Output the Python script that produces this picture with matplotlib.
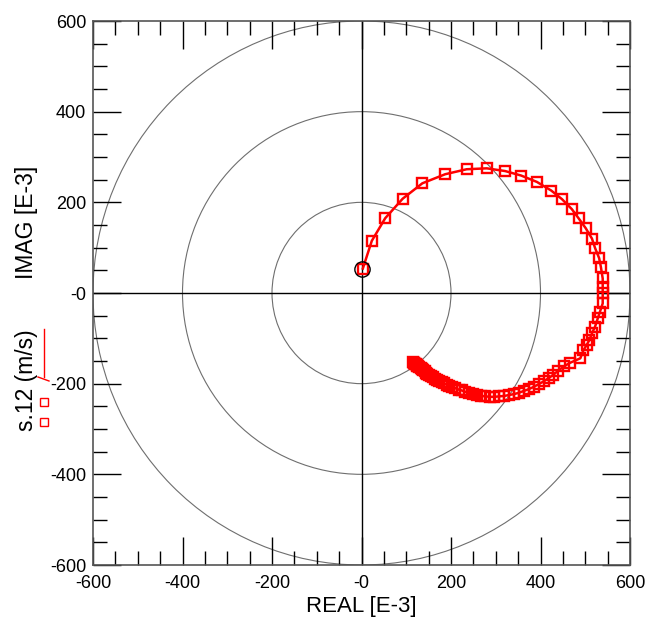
import matplotlib
matplotlib.use("Agg")
import matplotlib.pyplot as plt
import numpy as np
from matplotlib.lines import Line2D
from matplotlib.patches import Circle

plt.rcParams["font.family"] = ["Liberation Sans", "DejaVu Sans"]

# -------- DATA (units E-3) --------
s12_real = [3, 23, 53, 92, 136, 187, 235, 280, 321, 357, 392, 424, 448, 470,
            485, 501, 515, 522, 531, 535, 539, 539, 539, 539, 533, 528, 522,
            515, 509, 503, 496, 489,
            466, 452, 440, 429, 418, 407, 396, 385, 374, 363, 352, 341, 330,
            319, 308, 297, 287, 277, 267, 258, 249, 240, 232, 224, 217, 210,
            203, 196, 190, 184, 179, 174, 169, 164, 160, 155, 151, 147, 144,
            141, 138, 135, 132, 129, 127, 125, 123, 121, 119, 118, 117, 116]
s12_imag = [54, 115, 165, 208, 242, 262, 273, 275, 269, 259, 245, 226, 207, 185,
            165, 143, 120, 99, 77, 57, 32, 14, -1, -23, -41, -56, -74,
            -89, -104, -115, -126, -144,
            -154, -162, -171, -180, -188, -195, -201, -207, -212, -216, -220,
            -223, -225, -227, -228, -229, -229, -228, -227, -225, -223, -220,
            -218, -215, -213, -210, -207, -205, -202, -199, -197, -194, -192,
            -189, -186, -184, -181, -178, -176, -173, -170, -168, -165, -163,
            -161, -160, -158, -157, -156, -155, -154, -153]
start_marker = (2, 53)
ring_radii = [200, 400, 600]

tick_vals = [-600, -400, -200, 0, 200, 400, 600]
tick_text = ["-600", "-400", "-200", "-0", "200", "400", "600"]

RED = "#ff0000"

fig = plt.figure(figsize=(6.48, 6.21), dpi=100)
ax = fig.add_axes([93 / 648, 56 / 621, 537 / 648, 544 / 621])

# reference rings and crosshair
for r in ring_radii:
    ax.add_patch(Circle((0, 0), r, fill=False, ec="#6e6e6e", lw=0.8, zorder=1))
ax.axhline(0, color="black", lw=1.0, zorder=2)
ax.axvline(0, color="black", lw=1.0, zorder=2)

ax.plot(s12_real, s12_imag, color=RED, lw=1.8, marker="s", ms=7.5,
        mfc="none", mec=RED, mew=1.7, zorder=3)
ax.plot(*start_marker, marker="o", ms=11, mfc="none", mec="black",
        mew=1.0, zorder=4)

ax.set_xlim(-600, 600)
ax.set_ylim(-600, 600)

ax.set_xticks(tick_vals)
ax.set_xticklabels(tick_text)
ax.set_yticks(tick_vals)
ax.set_yticklabels(tick_text)
ax.set_xticks(np.arange(-600, 601, 50), minor=True)
ax.set_yticks(np.arange(-600, 601, 50), minor=True)
ax.tick_params(which="both", direction="in", top=True, right=True,
               color="black", width=1.0, labelsize=13)
ax.tick_params(which="major", length=20)
ax.tick_params(axis="x", which="major", pad=7)
ax.tick_params(axis="y", which="major", pad=5)
ax.tick_params(which="minor", length=10)
for sp in ax.spines.values():
    sp.set_color("#555555")
    sp.set_linewidth(1.2)

ax.set_xlabel("REAL [E-3]", fontsize=16, labelpad=3)

# y label (axis part + series part with legend glyph)
fig.text(27 / 648, 1 - 222 / 621, "IMAG [E-3]", rotation=90,
         ha="center", va="center", fontsize=16.5)
fig.text(26 / 648, 1 - 380 / 621, "s.12 (m/s)", rotation=90,
         ha="center", va="center", fontsize=16.5)
fig.add_artist(Line2D([44 / 648, 44 / 648], [1 - 329 / 621, 1 - 377 / 621],
                      color=RED, lw=1.0))
fig.add_artist(Line2D([38 / 648, 49 / 648], [1 - 377 / 621, 1 - 381 / 621],
                      color=RED, lw=1.0))
fig.add_artist(Line2D([44 / 648, 44 / 648], [1 - 402 / 621, 1 - 422 / 621],
                      ls="none", marker="s", ms=6, mfc="none", mec=RED,
                      mew=1.0))

fig.savefig("out.png", dpi=100)
